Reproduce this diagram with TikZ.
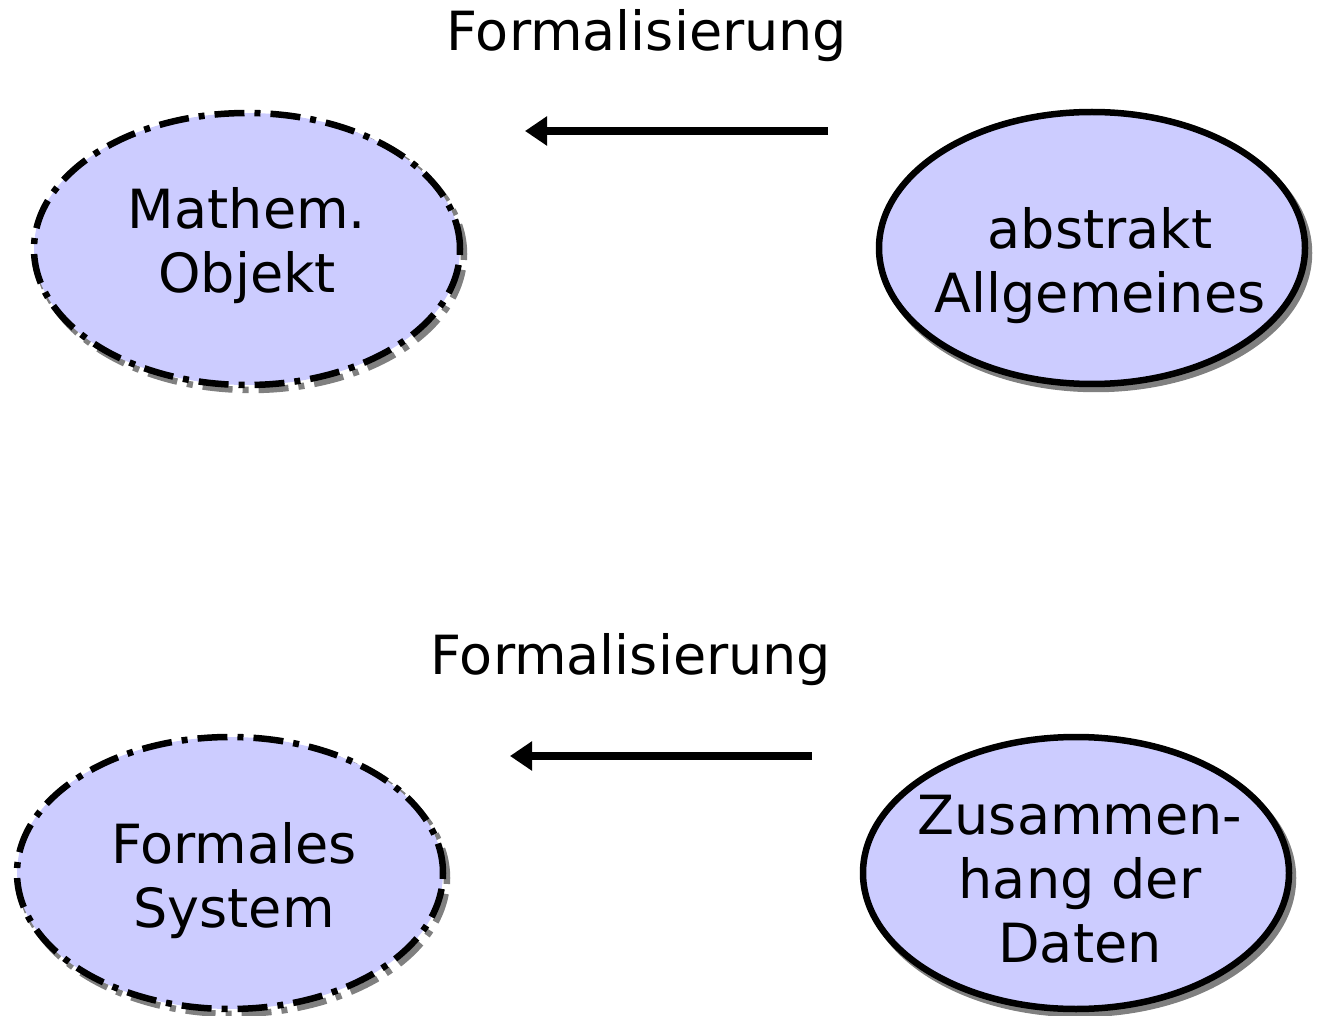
\documentclass[tikz,border=0pt]{standalone}
\usepackage{fontspec}
\setmainfont{DejaVu Sans}
\usetikzlibrary{shapes.geometric,arrows.meta}
\definecolor{ellfill}{HTML}{CCCCFF}
\definecolor{shadowgray}{HTML}{808080}
\begin{document}
\begin{tikzpicture}[x=1pt,y=-1pt,
  txt/.style={font=\fontsize{54}{64}\selectfont, align=center, inner sep=0pt},
  ellbase/.style={ellipse, inner sep=0pt, minimum width=426pt, minimum height=272pt},
  dashdot/.style={dash pattern=on 30pt off 10pt on 6pt off 10pt},
  ellsolid/.style={ellbase, draw=black, fill=ellfill, line width=6.5pt},
  elldash/.style={ellbase, draw=black, fill=ellfill, line width=6.5pt, dashdot},
  shsolid/.style={ellbase, draw=shadowgray, line width=6.5pt},
  shdash/.style={ellbase, draw=shadowgray, line width=6.5pt, dashdot},
  formarrow/.style={line width=8.5pt, -{Triangle[length=22pt,width=28pt]}}
]
\useasboundingbox (0,0) rectangle (1318,1016);
% shadows
\node[shdash] (s1) at (251,254) {};
\node[shsolid] (s2) at (1096,253) {};
\node[shdash] (s3) at (234,878) {};
\node[shsolid] (s4) at (1080,878) {};
% ellipses
\node[elldash] (mo) at (247,249) {};
\node[ellsolid] (aa) at (1092,248) {};
\node[elldash] (fs) at (230,873) {};
\node[ellsolid] (zd) at (1076,873) {};
% ellipse texts
\node[txt] (mot) at (247,246) {Mathem.\\Objekt};
\node[txt] (aat) at (1100,266) {abstrakt\\Allgemeines};
\node[txt] (fst) at (234,881) {Formales\\System};
\node[txt] (zdt) at (1080,879) {Zusammen-\\hang der\\Daten};
% labels
\node[txt] (l1) at (647,36) {Formalisierung};
\node[txt] (l2) at (631,660) {Formalisierung};
% arrows
\coordinate (a1s) at (828,131);
\coordinate (a1e) at (525,131);
\coordinate (a2s) at (812,756);
\coordinate (a2e) at (510,756);
\draw[formarrow] (a1s) -- (a1e);
\draw[formarrow] (a2s) -- (a2e);
\end{tikzpicture}
\end{document}
